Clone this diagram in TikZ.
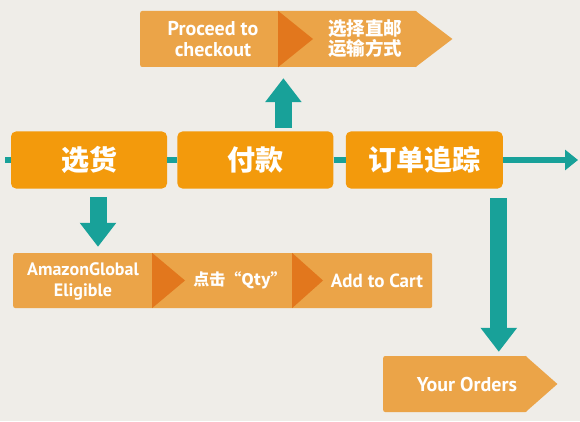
\documentclass[tikz,border=0pt]{standalone}
\usepackage{fontspec}
\setmainfont{Noto Sans CJK SC}
\newfontfamily\latinfont{PT Sans}
\usepackage{xcolor}
\definecolor{PAPERCOLOR}{HTML}{EFEDE8}
\definecolor{STEPCOLOR}{HTML}{F39A0C}
\definecolor{BARCOLOR}{HTML}{EBA448}
\definecolor{MARKCOLOR}{HTML}{E2771D}
\definecolor{ARROWCOLOR}{HTML}{18A199}
\usetikzlibrary{arrows.meta,positioning,calc}
\tikzset{
  step-style/.style = {
    rectangle, rounded corners=5pt,
    fill=STEPCOLOR, text=white,
    minimum width=156pt,
    minimum height=57pt,
    inner sep=0pt,
    font=\fontsize{28}{30}\selectfont\bfseries
  },
  bar-style/.style = {
    rectangle, rounded corners=2pt,
    fill=BARCOLOR,
    minimum height=#1,
    inner sep=0pt
  },
  bar-style/.default = 56pt,
  label-style/.style = {
    text=white, align=center, inner sep=0pt,
    font=\fontsize{18.5}{20}\selectfont\bfseries
  },
  latin-style/.style = {
    label-style,
    font=\latinfont\fontsize{#1}{21}\selectfont\bfseries
  },
  latin-style/.default = 18,
  flow-style/.style = {draw=ARROWCOLOR, line width=6pt},
  jump-style/.style = {
    draw=ARROWCOLOR, line width=17pt,
    -{Triangle[width=35pt,length=24pt]}
  }
}
% pointed end of a bar
\newcommand\barPoint[2]{
  \fill[BARCOLOR] ([xshift=-2pt]#1.north east) -- ([xshift=#2]#1.east)
    -- ([xshift=-2pt]#1.south east) -- cycle;
}
% dark triangle inside a bar
\newcommand\barMark[3]{
  \fill[MARKCOLOR] ([xshift=#2]#1.north west) -- ([xshift=#2+#3]#1.west)
    -- ([xshift=#2]#1.south west) -- cycle;
}

\begin{document}
\begin{tikzpicture}[x=1pt,y=1pt]
  \fill[PAPERCOLOR] (0,0) rectangle (580,421);
  \useasboundingbox (0,0) rectangle (580,421);

  % main steps
  \node[step-style] (pick) at (89,261) {选货};
  \node[step-style, right=10pt of pick] (pay) {付款};
  \node[step-style, right=12pt of pay, minimum width=157pt] (track) {订单追踪};

  \coordinate (flow-start) at (5,261);
  \coordinate (flow-end) at (578,261);

  % bars
  \node[bar-style, minimum width=277pt, anchor=west] (paybar) at (140,382) {};
  \barPoint{paybar}{35pt}
  \barMark{paybar}{138pt}{35pt}
  \node[latin-style=20] (checkout) at (213,382) {Proceed to\\checkout};
  \node[label-style] (mail) at (365,382) {选择直邮\\运输方式};

  \node[bar-style=55pt, minimum width=419pt, anchor=west] (pickbar) at (13,140.5) {};
  \barMark{pickbar}{139pt}{33pt}
  \barMark{pickbar}{279pt}{31pt}
  \node[latin-style=18] (eligible) at (83,140) {AmazonGlobal\\Eligible};
  \node[label-style, font=\fontsize{16}{18}\selectfont\bfseries] (qty) at (240,140.5) {点击“Qty”};
  \node[latin-style=19] (cart) at (377,140.5) {Add to Cart};

  \node[bar-style, minimum width=144pt, anchor=west] (orderbar) at (383,37) {};
  \barPoint{orderbar}{30pt}
  \node[latin-style=20] (orders) at (467,37) {Your Orders};

  % flow line
  \draw[flow-style] (flow-start) -- (pick.west);
  \draw[flow-style] (pick.east) -- (pay.west);
  \draw[flow-style] (pay.east) -- (track.west);
  \draw[flow-style, -{Triangle[width=20pt,length=13pt]}] (track.east) -- (flow-end);

  % jumps
  \draw[jump-style, shorten <=3.5pt, shorten >=11pt]
    ([xshift=28pt]pay.north) -- ([xshift=28pt]pay.north |- paybar.south);
  \draw[jump-style, shorten <=8.5pt, shorten >=6pt]
    ([xshift=9pt]pick.south) -- ([xshift=9pt]pick.south |- pickbar.north);
  \draw[jump-style, shorten <=9.5pt, shorten >=4pt]
    ([xshift=74.5pt]track.south) -- ([xshift=74.5pt]track.south |- orderbar.north);
\end{tikzpicture}
\end{document}
